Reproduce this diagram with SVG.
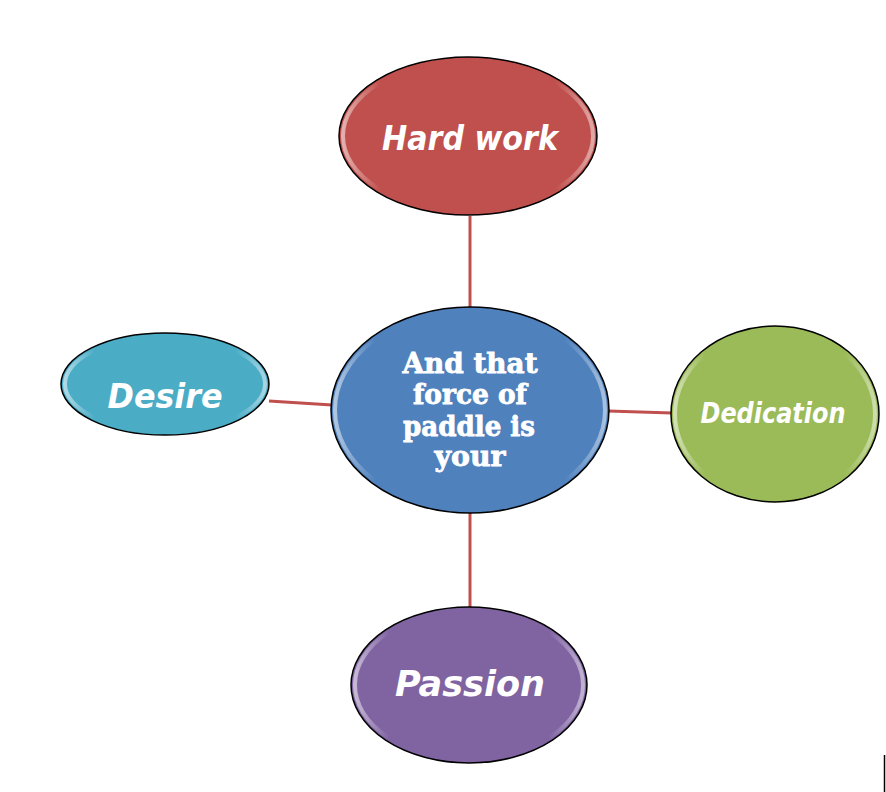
<svg xmlns="http://www.w3.org/2000/svg" width="886" height="792" viewBox="0 0 886 792">
<style>
.node{stroke:#000;stroke-width:1.5}
.hl{fill:none;stroke:url(#gloss);stroke-width:4}
.script{font-family:"DejaVu Sans",sans-serif;font-weight:bold;font-style:italic;fill:#fff;text-anchor:middle}
.center{font-family:"DejaVu Serif","Liberation Serif",serif;font-weight:900;font-size:27px;fill:#fff;text-anchor:middle;stroke:#fff;stroke-width:0.8}
.conn{stroke:#c0504d;stroke-width:3;fill:none}
</style>
<defs>
<linearGradient id="gloss" x1="0" y1="0" x2="1" y2="0">
<stop offset="0" stop-color="#fff" stop-opacity="0.55"/>
<stop offset="0.15" stop-color="#fff" stop-opacity="0"/>
<stop offset="0.85" stop-color="#fff" stop-opacity="0"/>
<stop offset="1" stop-color="#fff" stop-opacity="0.5"/>
</linearGradient>
</defs>
<rect width="886" height="792" fill="#fff"/>
<g id="connectors">
<line class="conn" x1="470" y1="216" x2="470" y2="308"/>
<line class="conn" x1="470" y1="512" x2="470" y2="608"/>
<line class="conn" x1="269" y1="401" x2="332" y2="405"/>
<line class="conn" x1="608" y1="411" x2="672" y2="413"/>
</g>
<g id="hardwork">
<ellipse class="node" cx="468" cy="136" rx="129" ry="79" fill="#c0504d"/>
<ellipse class="hl" cx="468" cy="136" rx="125" ry="75"/>
<text class="script" x="470" y="150" font-size="34" textLength="176" lengthAdjust="spacingAndGlyphs">Hard work</text>
</g>
<g id="center">
<ellipse class="node" cx="470" cy="410" rx="139" ry="103" fill="#4f81bd"/>
<ellipse class="hl" cx="470" cy="410" rx="135" ry="99"/>
<text class="center" x="470" y="373" textLength="135" lengthAdjust="spacingAndGlyphs">And that</text>
<text class="center" x="470" y="404" textLength="114" lengthAdjust="spacingAndGlyphs">force of</text>
<text class="center" x="469" y="436" textLength="132" lengthAdjust="spacingAndGlyphs">paddle is</text>
<text class="center" x="470" y="466" textLength="71" lengthAdjust="spacingAndGlyphs">your</text>
</g>
<g id="desire">
<ellipse class="node" cx="165" cy="384" rx="104" ry="51" fill="#4bacc6"/>
<ellipse class="hl" cx="165" cy="384" rx="100" ry="47"/>
<text class="script" x="165" y="408" font-size="34" textLength="115" lengthAdjust="spacingAndGlyphs">Desire</text>
</g>
<g id="dedication">
<ellipse class="node" cx="775" cy="414" rx="104" ry="88" fill="#9bbb59"/>
<ellipse class="hl" cx="775" cy="414" rx="100" ry="84"/>
<text class="script" x="773" y="423" font-size="28" textLength="145" lengthAdjust="spacingAndGlyphs">Dedication</text>
</g>
<g id="passion">
<ellipse class="node" cx="469" cy="685" rx="118" ry="78" fill="#8064a2"/>
<ellipse class="hl" cx="469" cy="685" rx="114" ry="74"/>
<text class="script" x="470" y="696" font-size="36" textLength="150" lengthAdjust="spacingAndGlyphs">Passion</text>
</g>
<line x1="884.5" y1="755" x2="884.5" y2="792" stroke="#000" stroke-width="1.5"/>
</svg>
